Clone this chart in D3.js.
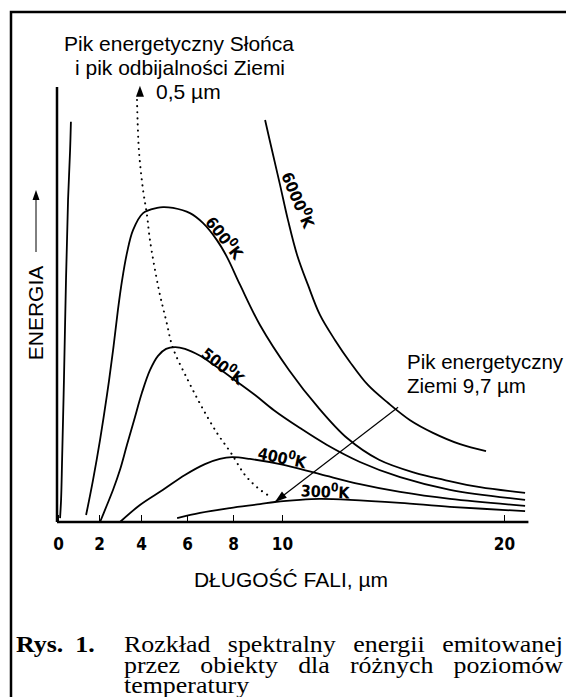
<!DOCTYPE html>
<html>
<head>
<meta charset="utf-8">
<script src="https://cdn.jsdelivr.net/npm/d3@7"></script>
<style>
body { margin: 0; background: #fff; }
svg { display: block; }
.curve { fill: none; stroke: #000; stroke-width: 1.8; stroke-linejoin: round; }
.sans { font-family: "Liberation Sans", Arial, sans-serif; }
.narrow { font-family: "Liberation Sans Narrow", "DejaVu Sans Condensed", sans-serif; font-weight: bold; }
.serif { font-family: "Liberation Serif", "Times New Roman", serif; }
</style>
</head>
<body>
<div id="chart"></div>
<script>
// wavelength ticks printed under the axis (µm)
var xTicks = [0, 2, 4, 6, 8, 10, 20];

// temperatures of the drawn curves (K)
var temps = ["6000", "600", "500", "400", "300"];

// curves as [wavelength µm, relative energy]
// 6000 K: rising edge near 0 and falling tail, peak is off the chart
var curve6000a = [[0.1, 0.9], [0.15, 5.1], [0.2, 14.3], [0.29, 32.6], [0.39, 55.6], [0.49, 74.0], [0.59, 85.5], [0.63, 92.0]];
var curve6000b = [[9.31, 92.4], [9.59, 85.5], [9.92, 77.5], [10.27, 69.4], [10.68, 61.4], [11.17, 54.5], [11.71, 47.6],
  [12.39, 41.8], [13.06, 36.8], [13.87, 31.5], [14.77, 27.4], [15.77, 23.4], [16.8, 20.5], [18.02, 17.9], [19.19, 16.3]];
var curve600 = [[1.37, 1.6], [1.71, 9.7], [2.05, 18.9], [2.38, 29.2], [2.67, 39.5], [2.9, 48.7], [3.1, 55.6], [3.33, 61.8],
  [3.62, 67.1], [4.09, 71.0], [4.7, 72.2], [4.96, 72.4], [5.39, 72.2], [6.13, 71.0], [6.7, 68.7], [7.3, 64.8], [7.74, 60.9],
  [8.29, 54.5], [9.1, 45.3], [10.32, 34.9], [11.62, 26.4], [12.93, 19.3], [14.37, 14.3], [15.99, 11.3], [17.3, 9.7],
  [18.92, 8.0], [20.95, 6.7]];
var curve500 = [[2.05, 0], [2.38, 3.9], [2.67, 7.4], [3.0, 12.0], [3.33, 17.7], [3.67, 23.4], [4.04, 29.7], [4.39, 34.9],
  [4.74, 38.2], [5.09, 39.8], [5.48, 40.2], [5.91, 39.8], [6.57, 38.2], [7.22, 35.9], [8.08, 32.6], [8.9, 29.2],
  [9.67, 25.7], [10.81, 21.6], [12.03, 17.7], [13.51, 13.8], [15.32, 10.3], [17.57, 7.4], [20.95, 5.1]];
var curve400 = [[3.0, 0], [3.95, 3.9], [4.96, 7.4], [5.91, 10.8], [6.78, 13.3], [7.43, 14.5], [7.96, 14.9], [8.69, 14.5],
  [9.92, 13.3], [11.71, 11.0], [13.51, 8.7], [15.32, 6.9], [17.57, 5.3], [20.95, 3.7]];
var curve300 = [[5.57, 0.9], [6.57, 2.1], [7.87, 3.2], [9.1, 4.1], [9.71, 4.6], [10.81, 5.1], [11.71, 5.3], [13.06, 5.1],
  [15.32, 4.4], [17.57, 3.5], [20.95, 2.5]];
// dotted locus of the peaks (Wien)
var peakLocus = [[3.81, 97.0], [3.9, 85.5], [4.09, 76.3], [4.26, 70.6], [4.39, 64.8], [4.78, 53.3], [5.09, 46.4], [5.39, 40.0],
  [6.04, 32.6], [6.65, 26.4], [7.3, 20.5], [7.91, 15.9], [8.49, 10.8], [9.02, 7.8], [9.55, 5.7]];

var width = 566, height = 697;

var svg = d3.select("#chart").append("svg")
    .attr("width", width)
    .attr("height", height);

// hand drawn axis, the tick spacing is not quite even
var x = d3.scaleLinear()
    .domain(xTicks)
    .range([58, 99, 141, 187, 233, 282, 504]);

var y = d3.scaleLinear()
    .domain([0, 100])
    .range([522, 87]);

// frame round the figure
svg.append("path")
    .attr("d", "M11,697V12H566")
    .attr("fill", "none")
    .attr("stroke", "#000")
    .attr("stroke-width", 2.5);

// axes lines
svg.append("line")
    .attr("x1", x(0) - 1).attr("x2", x(21.1))
    .attr("y1", y(0)).attr("y2", y(0))
    .attr("stroke", "#000").attr("stroke-width", 2.5);
svg.append("line")
    .attr("x1", x(0) - 1).attr("x2", x(0) - 1)
    .attr("y1", y(0)).attr("y2", y(100))
    .attr("stroke", "#000").attr("stroke-width", 2.5);

var xAxis = d3.axisBottom(x)
    .tickValues(xTicks)
    .tickSizeInner(-7)
    .tickSizeOuter(0)
    .tickPadding(16);
var gx = svg.append("g")
    .attr("transform", "translate(0," + y(0) + ")")
    .call(xAxis);
gx.select(".domain").remove();
gx.selectAll(".tick line").attr("stroke", "#000").attr("stroke-width", 1);
gx.selectAll(".tick text")
    .attr("class", "narrow")
    .attr("font-size", 17)
    .attr("fill", "#000");

// curves
var line = d3.line()
    .x(function(d) { return x(d[0]); })
    .y(function(d) { return y(d[1]); })
    .curve(d3.curveCatmullRom.alpha(0.5));

[curve6000a, curve6000b, curve600, curve500, curve400, curve300].forEach(function(c) {
  svg.append("path")
      .datum(c)
      .attr("class", "curve")
      .attr("d", line);
});

svg.append("path")
    .datum(peakLocus)
    .attr("d", line)
    .attr("fill", "none")
    .attr("stroke", "#000")
    .attr("stroke-width", 2)
    .attr("stroke-linecap", "round")
    .attr("stroke-dasharray", "0.1,6");

// arrow head at the top of the dotted locus
var tip = [x(3.95), y(100.3)];
svg.append("path")
    .attr("d", "M" + tip[0] + "," + tip[1] + "l-4,11h8z")
    .attr("fill", "#000");

// curve labels, placed along each curve
var labelPlace = [
  {at: [10.7, 74.0], angle: 67},
  {at: [7.61, 65.3], angle: 52},
  {at: [7.55, 35.8], angle: 38},
  {at: [10.0, 14.7], angle: 12},
  {at: [11.94, 6.9], angle: 3}
];
temps.forEach(function(t, i) {
  var p = labelPlace[i];
  var txt = svg.append("text")
      .attr("class", "narrow")
      .attr("font-size", 16)
      .attr("text-anchor", "middle")
      .attr("transform", "translate(" + x(p.at[0]) + "," + y(p.at[1]) + ") rotate(" + p.angle + ")")
      .attr("dy", "0.35em");
  txt.append("tspan").text(t);
  txt.append("tspan").attr("font-size", 12).attr("dy", "-0.55em").text("0");
  txt.append("tspan").attr("dy", "0.4em").text("K");
});

// arrow pointing at the earth's peak (9,7 µm)
var a0 = [x(15.23), y(26.4)], a1 = [x(9.71), y(4.6)];
var ang = Math.atan2(a1[1] - a0[1], a1[0] - a0[0]);
svg.append("line")
    .attr("x1", a0[0]).attr("y1", a0[1])
    .attr("x2", a1[0]).attr("y2", a1[1])
    .attr("stroke", "#000").attr("stroke-width", 1.2);
svg.append("path")
    .attr("d", "M0,0L-12,-4L-12,4Z")
    .attr("transform", "translate(" + a1[0] + "," + a1[1] + ") rotate(" + (ang * 180 / Math.PI) + ")")
    .attr("fill", "#000");

// annotations
svg.append("text").attr("class", "sans").attr("font-size", 21)
    .attr("x", 179).attr("y", 51).attr("text-anchor", "middle")
    .text("Pik energetyczny Słońca");
svg.append("text").attr("class", "sans").attr("font-size", 21)
    .attr("x", 180).attr("y", 75).attr("text-anchor", "middle")
    .text("i pik odbijalności Ziemi");
svg.append("text").attr("class", "sans").attr("font-size", 21)
    .attr("x", 156).attr("y", 99)
    .text("0,5 µm");

svg.append("text").attr("class", "sans").attr("font-size", 20.5)
    .attr("x", 407).attr("y", 369)
    .text("Pik energetyczny");
svg.append("text").attr("class", "sans").attr("font-size", 20.5)
    .attr("x", 407).attr("y", 393)
    .text("Ziemi 9,7 µm");

// y axis title with its arrow
svg.append("text").attr("class", "sans").attr("font-size", 21)
    .attr("transform", "translate(43,313) rotate(-90)")
    .attr("text-anchor", "middle")
    .text("ENERGIA");
svg.append("line")
    .attr("x1", 36).attr("x2", 36).attr("y1", 252).attr("y2", 198)
    .attr("stroke", "#000").attr("stroke-width", 1);
svg.append("path").attr("d", "M36,190l-3.5,10h7z").attr("fill", "#000");

// x axis title
svg.append("text").attr("class", "sans").attr("font-size", 21)
    .attr("x", 291).attr("y", 587).attr("text-anchor", "middle")
    .text("DŁUGOŚĆ FALI, µm");

// caption: the scan is a little wide, so stretch the serif text sideways
var stretch = 1.08;
svg.append("text").attr("class", "serif").attr("font-size", 24).attr("font-weight", "bold")
    .attr("transform", "translate(16,652) scale(" + stretch + ",1)")
    .attr("word-spacing", 5)
    .text("Rys. 1.");
var captionLines = ["Rozkład spektralny energii emitowanej", "przez obiekty dla różnych poziomów", "temperatury"];
captionLines.forEach(function(s, i) {
  var t = svg.append("text").attr("class", "serif").attr("font-size", 24)
      .attr("transform", "translate(124," + (652 + i * 20.5) + ") scale(" + stretch + ",1)")
      .text(s);
  if (i < 2) {
    var w = t.node().getComputedTextLength();
    var gaps = s.split(" ").length - 1;
    t.attr("word-spacing", Math.max(0, (439 / stretch - w) / gaps));
  }
});
</script>
</body>
</html>
